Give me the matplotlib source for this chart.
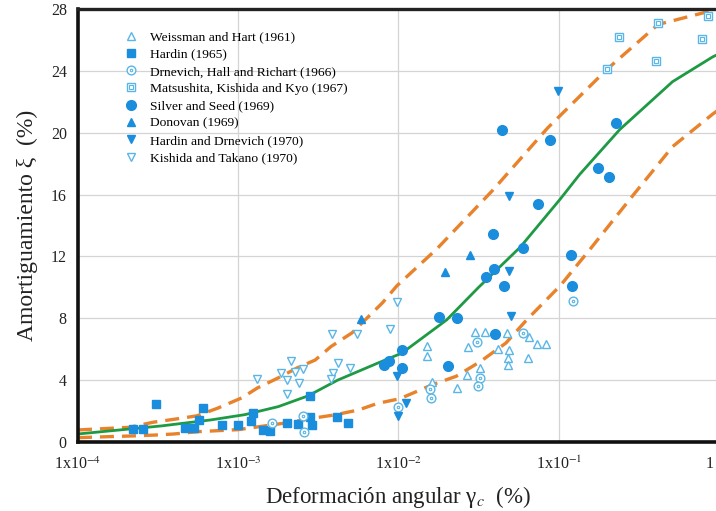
import matplotlib
matplotlib.use("Agg")
import matplotlib.pyplot as plt
from matplotlib.legend_handler import HandlerTuple
import numpy as np

plt.rcParams['font.family'] = ['Liberation Serif', 'DejaVu Serif']
plt.rcParams['mathtext.fontset'] = 'stix'

# ---- experimental data: shear strain (%) and damping ratio (%) ----
weissman_x = [1.50e-2, 1.50e-2, 1.61e-2, 2.31e-2, 2.67e-2, 2.71e-2, 3.00e-2, 3.46e-2, 3.22e-2,
              4.17e-2, 4.74e-2, 4.89e-2, 4.81e-2, 4.81e-2, 6.50e-2, 7.29e-2, 8.30e-2, 6.41e-2]
weissman_y = [6.22, 5.57, 3.89, 3.50, 4.34, 6.16, 7.13, 7.13, 4.80,
              6.03, 7.06, 5.96, 5.44, 4.99, 6.80, 6.35, 6.35, 5.44]

hardin_x = [2.20e-4, 2.54e-4, 3.05e-4, 4.64e-4, 5.30e-4, 5.69e-4, 6.03e-4, 7.91e-4, 9.95e-4, 1.20e-3,
            1.24e-3, 1.43e-3, 1.58e-3, 2.01e-3, 2.35e-3, 2.80e-3, 2.80e-3, 2.88e-3, 4.13e-3, 4.83e-3]
hardin_y = [0.84, 0.84, 2.44, 0.91, 0.91, 1.43, 2.20, 1.10, 1.10, 1.36,
            1.88, 0.78, 0.71, 1.23, 1.17, 2.98, 1.62, 1.10, 1.62, 1.23]

drnevich_x = [1.62e-3, 2.54e-3, 2.57e-3, 1.00e-2, 1.57e-2, 1.59e-2, 3.08e-2, 3.22e-2, 3.15e-2, 5.97e-2, 0.122]
drnevich_y = [1.23, 1.69, 0.65, 2.27, 3.43, 2.85, 6.48, 4.15, 3.63, 7.06, 9.14]

matsushita_x = [0.200, 0.237, 0.404, 0.415, 0.782, 0.851]
matsushita_y = [24.11, 26.18, 24.63, 27.09, 26.05, 27.54]

silver_x = [8.11e-3, 8.71e-3, 1.05e-2, 1.05e-2, 1.79e-2, 2.31e-2, 2.03e-2, 3.99e-2, 3.51e-2, 3.94e-2, 4.55e-2,
            3.88e-2, 5.97e-2, 4.42e-2, 8.79e-2, 7.41e-2, 0.119, 0.121, 0.227, 0.175, 0.206]
silver_y = [4.99, 5.25, 5.96, 4.80, 8.10, 8.04, 4.93, 7.00, 10.69, 11.21, 10.11,
            13.42, 12.57, 20.16, 19.51, 15.42, 12.12, 10.11, 20.61, 17.69, 17.11]

donovan_x = [5.82e-3, 1.95e-2, 2.79e-2]
donovan_y = [7.97, 11.02, 12.12]

hardin_drnevich_x = [9.77e-3, 9.91e-3, 1.11e-2, 4.89e-2, 4.89e-2, 5.02e-2, 9.86e-2]
hardin_drnevich_y = [4.28, 1.69, 2.53, 15.88, 11.08, 8.17, 22.68]

kishida_x = [1.31e-3, 1.85e-3, 2.01e-3, 2.01e-3, 2.13e-3, 2.26e-3, 2.39e-3, 2.54e-3,
             3.85e-3, 5.50e-3, 4.19e-3, 3.90e-3, 3.78e-3, 4.98e-3, 8.83e-3, 9.77e-3]
kishida_y = [4.08, 4.47, 4.02, 3.11, 5.25, 4.54, 3.82, 4.73,
             7.00, 7.00, 5.12, 4.47, 4.08, 4.80, 7.32, 9.07]

# ---- mean curve and bounds ----
mean_x = [1.0e-4, 3.31e-4, 6.76e-4, 1.10e-3, 1.78e-3, 2.72e-3, 4.17e-3, 7.41e-3, 1.05e-2,
          2.0e-2, 3.16e-2, 5.75e-2, 0.102, 0.135, 0.24, 0.513, 0.912, 1.0]
mean_y = [0.52, 1.04, 1.43, 1.77, 2.29, 2.98, 4.0, 5.1, 5.75,
          7.9, 10.0, 12.6, 15.7, 17.3, 20.2, 23.3, 24.9, 25.1]

upper_x = [1.0e-4, 2.09e-4, 2.95e-4, 3.98e-4, 5.50e-4, 7.41e-4, 1.05e-3, 1.32e-3, 1.78e-3, 2.34e-3,
           3.02e-3, 3.80e-3, 5.13e-3, 7.94e-3, 9.77e-3, 1.74e-2, 3.89e-2, 8.51e-2, 0.20, 0.417, 0.832, 1.0]
upper_y = [0.78, 0.95, 1.28, 1.47, 1.69, 2.18, 2.85, 3.5, 4.15, 4.8,
           5.3, 6.18, 7.06, 9.0, 10.1, 12.5, 16.3, 20.3, 24.1, 27.0, 27.8, 28.0]

lower_x = [1.0e-4, 1.48e-4, 2.14e-4, 3.02e-4, 3.98e-4, 5.62e-4, 1.0e-3, 1.48e-3, 2.04e-3, 2.88e-3,
           3.98e-3, 5.62e-3, 7.41e-3, 1.02e-2, 1.62e-2, 2.29e-2, 3.24e-2, 4.68e-2, 6.31e-2, 0.102,
           0.155, 0.288, 0.513, 0.912, 1.0]
lower_y = [0.28, 0.34, 0.39, 0.45, 0.52, 0.67, 0.8, 1.05, 1.25, 1.53,
           1.75, 2.07, 2.5, 2.8, 3.7, 4.25, 5.2, 6.4, 7.9, 10.1,
           12.4, 15.9, 19.1, 21.2, 21.5]

x_ticks = [1e-4, 1e-3, 1e-2, 1e-1, 1]
x_tick_labels = [r'1x10$^{-4}$', r'1x10$^{-3}$', r'1x10$^{-2}$', r'1x10$^{-1}$', '1']
y_ticks = [0, 4, 8, 12, 16, 20, 24, 28]

dark_blue = '#1a8ddc'
light_blue = '#5ab6e6'
green = '#1e9a45'
orange = '#e8832c'

fig = plt.figure(figsize=(7.16, 5.11), dpi=100)
ax = fig.add_axes([0.1089, 0.135, 0.8953, 0.8474])
ax.set_xscale('log')
ax.set_xlim(1e-4, 1.0)
ax.set_ylim(0, 28)

ax.grid(True, which='major', color='#d4d4d4', linewidth=0.9)
ax.minorticks_off()
ax.set_axisbelow(True)

# curves
ax.plot(upper_x, upper_y, color=orange, lw=2.4, dashes=(4.2, 2.4), zorder=2)
ax.plot(lower_x, lower_y, color=orange, lw=2.4, dashes=(4.2, 2.4), zorder=2)
ax.plot(mean_x, mean_y, color=green, lw=2.0, zorder=2)

# data series
h1, = ax.plot(weissman_x, weissman_y, ls='none', marker='^', ms=5.5, mfc='white',
              mec=light_blue, mew=1.0, zorder=3)
h2, = ax.plot(hardin_x, hardin_y, ls='none', marker='s', ms=5.2, color=dark_blue, zorder=3)
h3o, = ax.plot(drnevich_x, drnevich_y, ls='none', marker='o', ms=6.3, mfc='white',
               mec=light_blue, mew=1.0, zorder=3)
h3i, = ax.plot(drnevich_x, drnevich_y, ls='none', marker='o', ms=1.8, mfc='white',
               mec=light_blue, mew=0.8, zorder=3)
h4o, = ax.plot(matsushita_x, matsushita_y, ls='none', marker='s', ms=6.0, mfc='white',
               mec=light_blue, mew=1.0, zorder=3)
h4i, = ax.plot(matsushita_x, matsushita_y, ls='none', marker='s', ms=2.6, mfc='white',
               mec=light_blue, mew=0.8, zorder=3)
h5, = ax.plot(silver_x, silver_y, ls='none', marker='o', ms=7.0, color=dark_blue, zorder=3)
h6, = ax.plot(donovan_x, donovan_y, ls='none', marker='^', ms=5.5, color=dark_blue, zorder=3)
h7, = ax.plot(hardin_drnevich_x, hardin_drnevich_y, ls='none', marker='v', ms=5.5,
              color=dark_blue, zorder=3)
h8, = ax.plot(kishida_x, kishida_y, ls='none', marker='v', ms=6.0, mfc='white',
              mec=light_blue, mew=1.0, zorder=3)

labels = ['Weissman and Hart (1961)', 'Hardin (1965)', 'Drnevich, Hall and Richart (1966)',
          'Matsushita, Kishida and Kyo (1967)', 'Silver and Seed (1969)', 'Donovan (1969)',
          'Hardin and Drnevich (1970)', 'Kishida and Takano (1970)']
handles = [h1, h2, (h3o, h3i), (h4o, h4i), h5, h6, h7, h8]
ax.legend(handles, labels, loc='upper left', bbox_to_anchor=(0.064, 0.962),
          frameon=False, fontsize=9.7, handlelength=1.0, handletextpad=0.9,
          labelspacing=0.36, borderaxespad=0.0,
          handler_map={tuple: HandlerTuple(ndivide=1, pad=0)})

ax.set_xticks(x_ticks[:-1])
ax.set_xticklabels(x_tick_labels[:-1])
ax.set_yticks(y_ticks)
ax.tick_params(axis='both', which='both', length=0, labelsize=11.5, colors='#222222')
ax.tick_params(axis='x', pad=10)
ax.tick_params(axis='y', pad=8)
# the last strain label sits at the figure's right edge, so it is right-aligned there
ax.annotate(x_tick_labels[-1], xy=(x_ticks[-1], 0), xycoords='data',
            xytext=(-4, -10), textcoords='offset points', ha='right', va='top',
            fontsize=11.5, color='#222222', annotation_clip=False)
ax.axvline(x_ticks[-1], color='#d4d4d4', lw=0.9, zorder=0)

for side in ['left', 'bottom']:
    ax.spines[side].set_linewidth(2.6)
    ax.spines[side].set_color('#111111')
ax.spines['top'].set_linewidth(2.4)
ax.spines['top'].set_color('#222222')
ax.spines['right'].set_visible(False)

ax.set_ylabel('Amortiguamiento ξ  (%)', fontsize=17, color='#222222', labelpad=9)
ax.set_xlabel('Deformación angular γ$_{c}$  (%)', fontsize=16.5, color='#222222', labelpad=8)

fig.savefig('out.png', dpi=100)
